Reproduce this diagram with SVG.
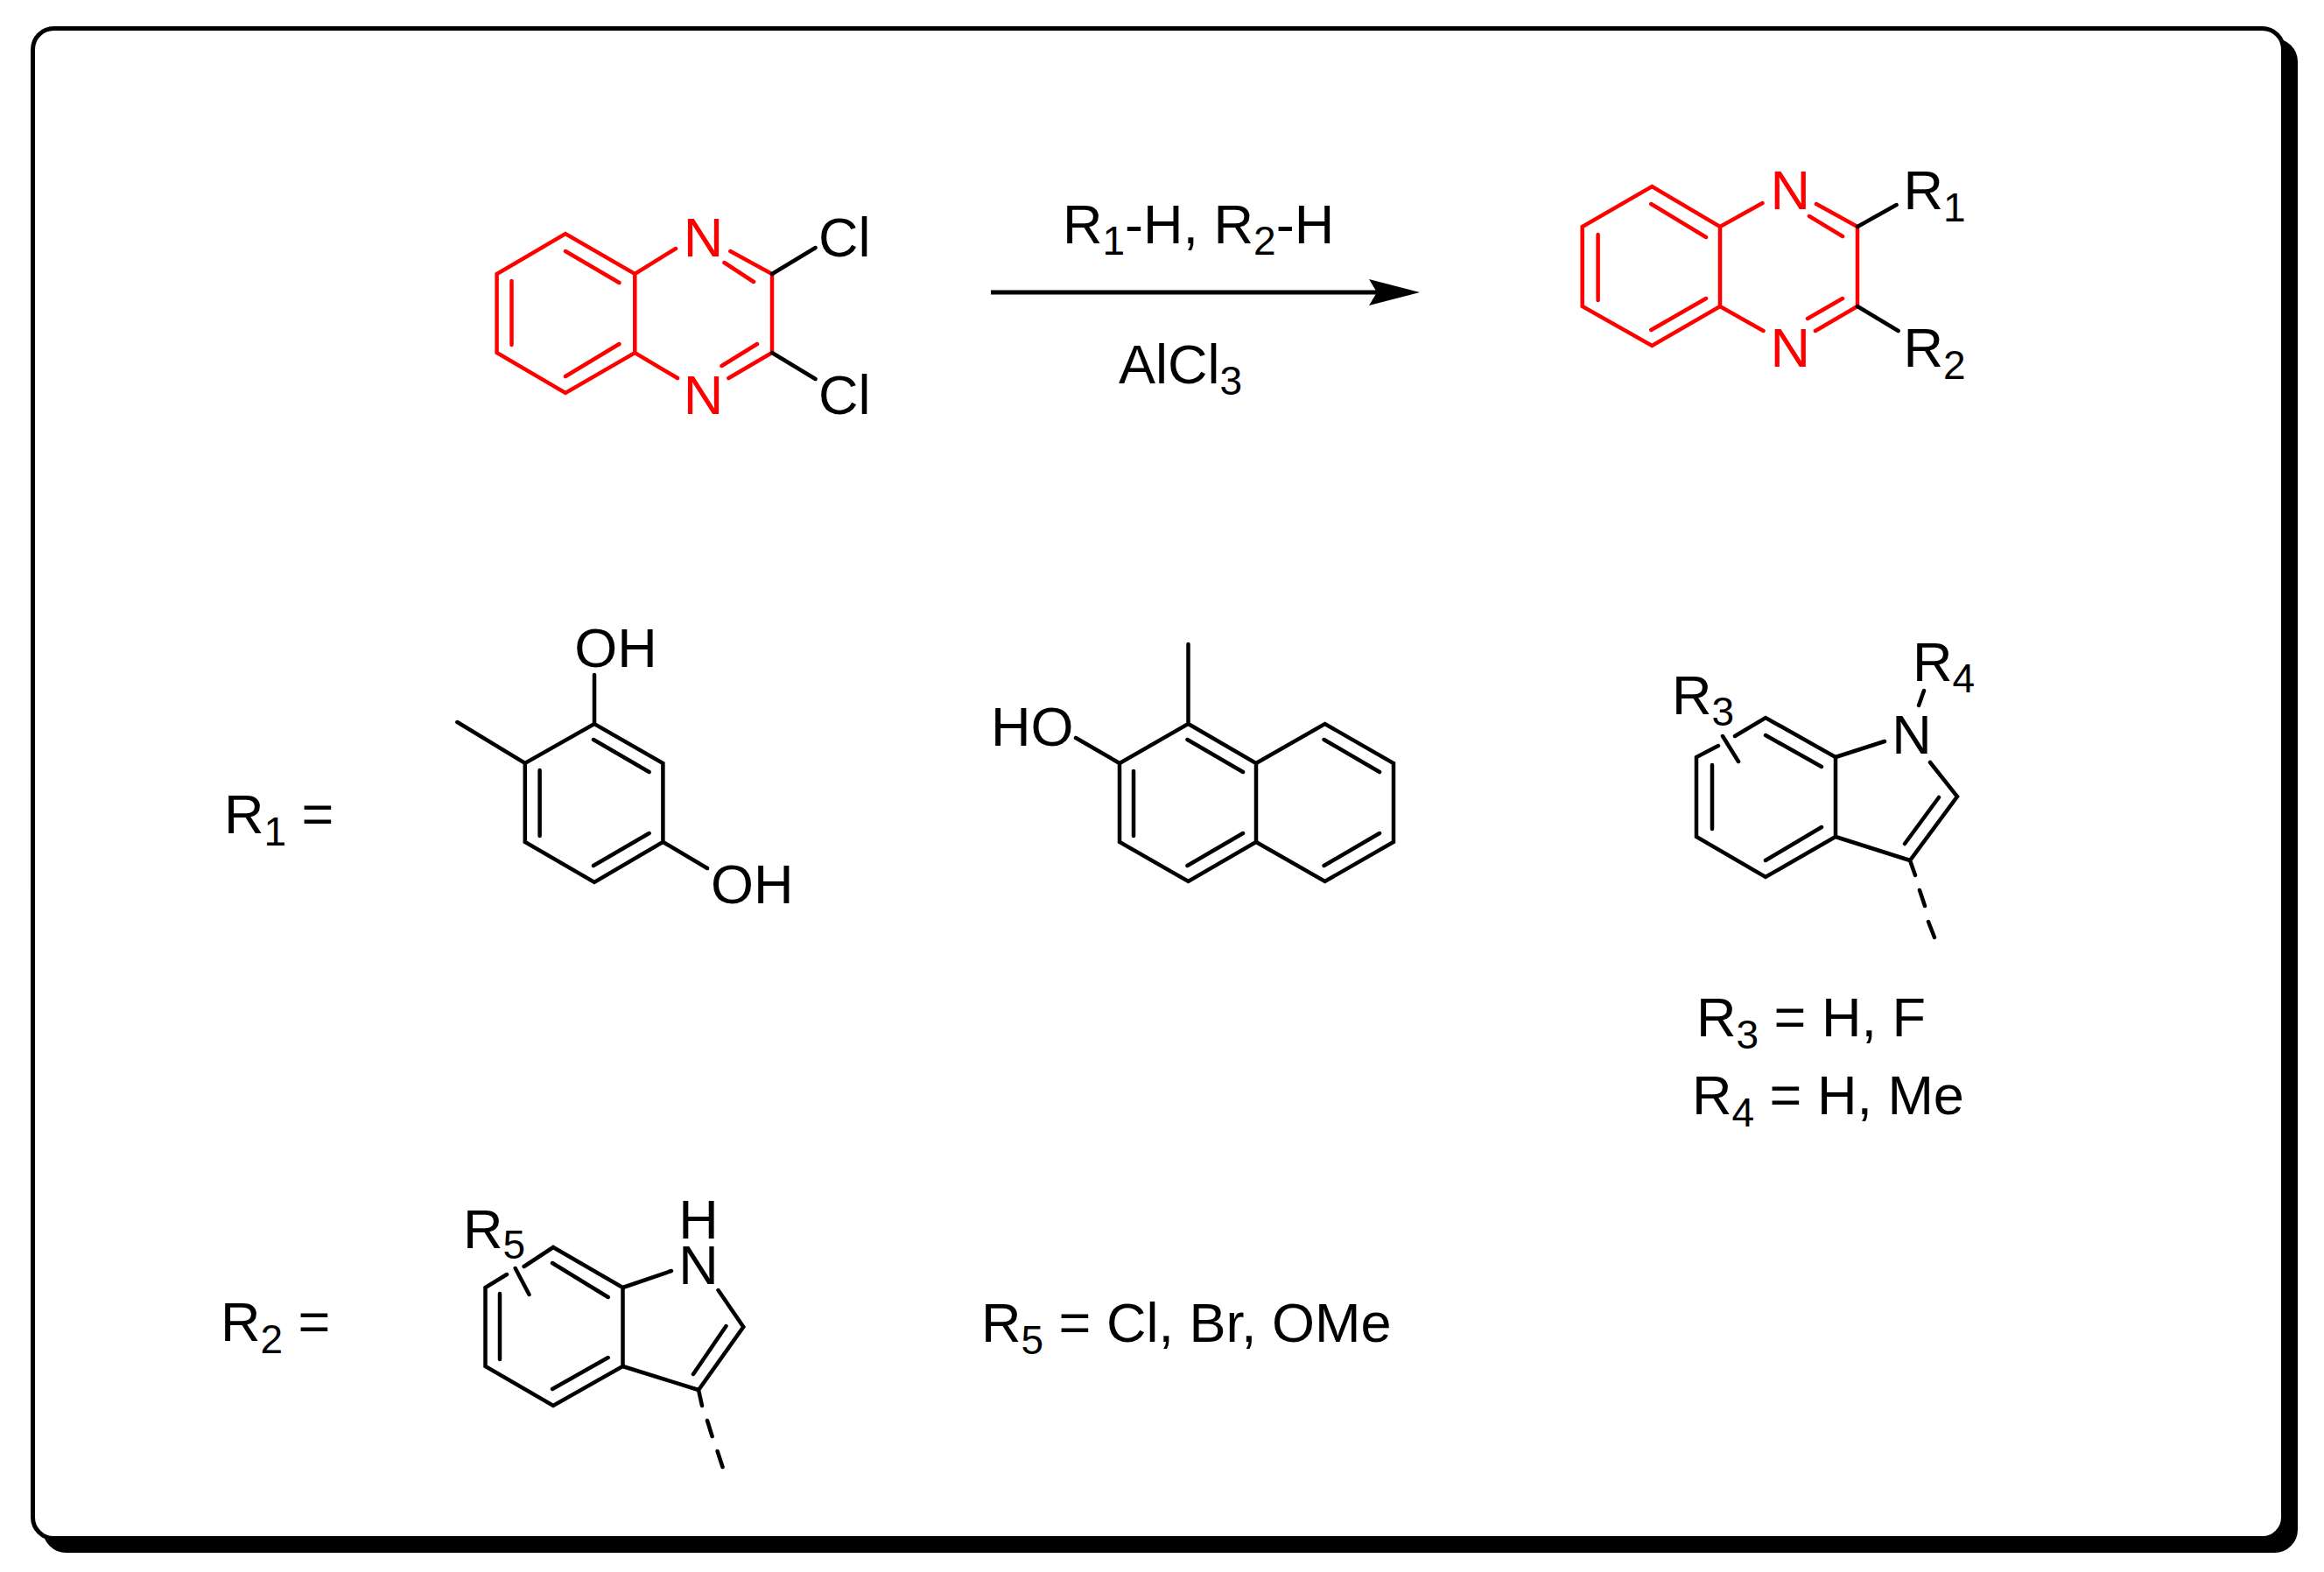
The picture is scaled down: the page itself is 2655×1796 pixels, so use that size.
<svg xmlns="http://www.w3.org/2000/svg" width="2655" height="1796" viewBox="0 0 2655 1796">
<style>
text{font-family:"Liberation Sans",Arial,sans-serif;font-size:63px;fill:#000}
.n{fill:#f00;text-anchor:middle}
.k{text-anchor:middle}
.s{font-size:46px}
.b{fill:none;stroke:#000;stroke-width:4.5;stroke-linecap:round;stroke-linejoin:miter}
.r{fill:none;stroke:#f00;stroke-width:4.5;stroke-linecap:round;stroke-linejoin:miter}
</style>
<rect width="2655" height="1796" fill="#fff"/>
<g id="frame">
<rect x="51.500" y="46.500" width="2571" height="1725" rx="24" fill="#000" stroke="#000" stroke-width="5"/>
<rect x="37.500" y="32.500" width="2571" height="1725" rx="24" fill="#fff" stroke="#000" stroke-width="5"/>
</g>
<g id="reactant">
<path class="r" d="M772 284L725.300 313L646 267L567.600 313V403L646 449L725.300 403L774 432M725.300 313V403M834.400 287L882 313V403L832.400 432M827.400 300L861 322M824.500 418L865 393M646 287L707.400 323M584.500 321V394M707.400 393L646 430"/>
<path class="b" d="M882 313L931.600 283M882 403L931.600 433"/>
<text class="n" x="803.600" y="293">N</text><text class="n" x="803.600" y="473">N</text>
<text x="935" y="293">Cl</text><text x="935" y="473">Cl</text>
</g>
<g id="connectors">
<path class="b" style="stroke-width:5;stroke-linecap:butt" d="M1132 334H1580"/>
<polygon points="1622,334 1564,319 1573,334 1564,349" fill="#000"/>
</g>
<g id="reagents">
<text x="1214" y="278">R<tspan class="s" dy="13">1</tspan><tspan dy="-13">-H, R</tspan><tspan class="s" dy="13">2</tspan><tspan dy="-13">-H</tspan></text>
<text x="1278" y="438">AlCl<tspan class="s" dy="13">3</tspan></text>
</g>
<g id="product">
<path class="r" d="M2013.500 232L1965 259L1887.300 213L1807.700 259V350L1887.300 395L1965 350L2014.500 378M1965 259V350M2075 233L2122 259V350L2074 378M2067 247L2105 270M2065 364L2105 341M1886.300 233L1949 271M1825.600 268V343M1949 341L1886.300 377"/>
<path class="b" d="M2122 259L2166.600 234M2122 350L2168.600 378"/>
<text class="n" x="2045.300" y="239">N</text><text class="n" x="2045.300" y="419">N</text>
<text x="2174.600" y="239">R<tspan class="s" dy="14">1</tspan></text>
<text x="2174.600" y="419">R<tspan class="s" dy="14">2</tspan></text>
</g>
<g id="r1-label"><text x="256" y="952">R<tspan class="s" dy="14">1</tspan><tspan dy="-14"> =</tspan></text></g>
<g id="r1-resorcinol">
<path class="b" d="M522.400 825L599.800 872L679 827L757.400 872V962L679 1008L599.800 962V872M679 827V771M757.400 962L808 992M678 845L741.600 882M616.600 880V955M741.600 952L678 989"/>
<text x="656.300" y="762">OH</text><text x="812" y="1032">OH</text>
</g>
<g id="r1-naphthol">
<path class="b" d="M1357.500 736V827L1279 872V962L1357.500 1007L1435 962V872L1357.500 827M1229 843L1279 872M1435 872L1513.600 827L1592 872V962L1513.600 1007L1435 962M1356.500 845L1420 882M1295 881V955M1420 952L1356.500 989M1512.600 845L1576 882M1576 952L1512.600 989"/>
<text x="1132" y="852">HO</text>
</g>
<g id="r1-indole">
<path class="b" d="M1963 852L1938 865V956L2017 1002L2097 956V865L2017 820L1982 841M1968 841L1986 870M2097 865L2153 847M2205 871L2236 910L2182 983L2097 956M2097 865V956M2215 911L2176 964M2182 983L2188 1000M2193 1017L2199 1035M2203 1053L2210 1071M2192 806L2198 789M2017 840L2081 876M1956 874V947M2081 945L2017 983"/>
<text class="k" x="2184" y="861">N</text>
<text x="2185" y="778">R<tspan class="s" dy="13">4</tspan></text>
<text x="1910" y="816">R<tspan class="s" dy="13">3</tspan></text>
</g>
<g id="r3-r4-values">
<text x="1938" y="1184">R<tspan class="s" dy="14">3</tspan><tspan dy="-14"> = H, F</tspan></text>
<text x="1933" y="1273">R<tspan class="s" dy="14">4</tspan><tspan dy="-14"> = H, Me</tspan></text>
</g>
<g id="r2-label"><text x="252" y="1532">R<tspan class="s" dy="14">2</tspan><tspan dy="-14"> =</tspan></text></g>
<g id="r2-indole">
<path class="b" d="M579 1456L554.500 1471V1561L632 1606L711.500 1561V1471L632 1425L598.600 1447M588.700 1449L604.500 1479M711.500 1471L767 1452M820.500 1474L849.300 1516L798 1588L711.500 1561M711.500 1471V1561M829.500 1515L792 1570M798 1588L802 1606M808 1623L813.600 1641M819.600 1658L825.500 1676M631 1443L694.700 1482M571 1478V1553M694.700 1551L631 1587"/>
<text x="529" y="1426">R<tspan class="s" dy="12">5</tspan></text>
<text class="k" x="798" y="1415">H</text><text class="k" x="798" y="1467">N</text>
</g>
<g id="r5-values"><text x="1121" y="1533">R<tspan class="s" dy="14">5</tspan><tspan dy="-14"> = Cl, Br, OMe</tspan></text></g>
</svg>
